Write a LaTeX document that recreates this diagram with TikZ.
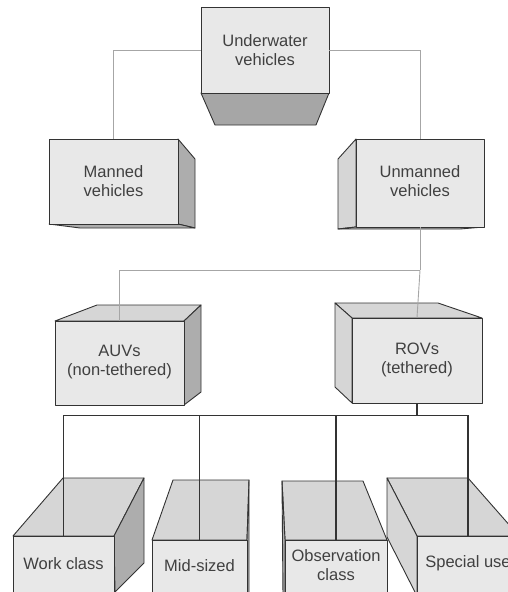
\documentclass[tikz,border=0pt]{standalone}
\usepackage{fontspec}
\setmainfont{Liberation Sans}
\begin{document}
\begin{tikzpicture}[x=1pt,y=-1pt,
  edge/.style={draw=black!80,line width=0.9pt,line join=round},
  front/.style={edge,fill=black!9,rectangle,inner sep=0pt},
  topface/.style={edge,fill=black!16},
  darkface/.style={edge,fill=black!32},
  btmface/.style={edge,fill=black!35},
  lite/.style={draw=black!35,line width=0.9pt},
  dark/.style={draw=black!80,line width=1.3pt},
  lbl/.style={inner sep=0pt,align=center,text=black!75,font=\fontsize{16.5}{19}\selectfont}]
\useasboundingbox (0,0) rectangle (508,592);
\clip (0,0) rectangle (508,592);
% ---- top box
\path[btmface] (201,93) -- (329,93) -- (316,125) -- (215,125) -- cycle;
\node[front,minimum width=128pt,minimum height=86pt] (top) at (265,50) {};
\node[lbl] (toptxt) at (265,50.5) {Underwater\\vehicles};
% ---- manned
\path[darkface] (178,139) -- (195,159) -- (195,228) -- (178,224) -- cycle;
\path[darkface] (49,224) -- (178,224) -- (195,228) -- (80,228) -- cycle;
\node[front,minimum width=129pt,minimum height=85pt] (man) at (113.5,181.5) {};
\node[lbl] (mantxt) at (113.5,180.6) {Manned\\vehicles};
% ---- unmanned
\path[topface] (356,139) -- (338,159) -- (338,229) -- (356,227) -- cycle;
\path[darkface] (338,229) -- (356,227) -- (484,227) -- (460,229) -- cycle;
\node[front,minimum width=128pt,minimum height=88pt] (un) at (420,183) {};
\node[lbl] (untxt) at (420,180.6) {Unmanned\\vehicles};
% ---- AUV
\path[topface] (55,321) -- (97,305) -- (201,305) -- (184,321) -- cycle;
\path[darkface] (184,321) -- (201,305) -- (201,392) -- (184,405) -- cycle;
\node[front,minimum width=129pt,minimum height=84pt] (auv) at (119.5,363) {};
\node[lbl] (auvtxt) at (119.5,362) {AUVs\\(non-tethered)};
% ---- ROV
\path[topface] (352,318) -- (335,303) -- (438,303) -- (482,318) -- cycle;
\path[topface] (352,318) -- (335,303) -- (335,387) -- (352,403) -- cycle;
\node[front,minimum width=130pt,minimum height=85pt] (rov) at (417,360.5) {};
\node[lbl] (rovtxt) at (417,360.3) {ROVs\\(tethered)};
% ---- work class
\path[topface] (13,536) -- (63,478) -- (144,478) -- (114,536) -- cycle;
\path[darkface] (114,536) -- (144,478) -- (144,563) -- (115,592) -- cycle;
\node[front,minimum width=101pt,minimum height=60pt] (work) at (63.5,566) {};
\node[lbl] (worktxt) at (63.5,564) {Work class};
% ---- mid-sized
\path[topface] (152,540) -- (173,480) -- (249,480) -- (247,540) -- cycle;
\path[darkface] (247,540) -- (249,480) -- (249,596) -- (247,596) -- cycle;
\node[front,minimum width=95pt,minimum height=56pt] (mid) at (199.5,568) {};
\node[lbl] (midtxt) at (199.5,566) {Mid-sized};
% ---- observation class
\path[topface] (285,540) -- (282,481) -- (363,481) -- (387,540) -- cycle;
\path[darkface] (282,481) -- (285,540) -- (285,596) -- (283,596) -- cycle;
\node[front,minimum width=102pt,minimum height=56pt] (obs) at (336,568) {};
\node[lbl] (obstxt) at (336,565.5) {Observation\\class};
% ---- special use
\path[topface] (417,536) -- (387,478) -- (468,478) -- (519,536) -- cycle;
\path[topface] (387,478) -- (417,536) -- (417,596) -- (387,537) -- cycle;
\node[front,minimum width=102pt,minimum height=60pt] (spec) at (468,566) {};
\node[lbl] (spectxt) at (468,563.7) {Special use};
% ---- connectors
\draw[lite] (top.west) -| (man.north);
\draw[lite] (top.east) -| (un.north);
\draw[lite] (un.south) -- ++(0,43) coordinate (j1);
\draw[lite] (j1) -| (auv.north);
\draw[lite] (j1) -- (rov.north);
\draw[dark] (rov.south) -- ++(0,12) coordinate (j2);
\draw[dark] (j2) -| (work.north);
\draw[dark] (j2) -| (mid.north);
\draw[dark] (j2) -| (obs.north);
\draw[dark] (j2) -| (spec.north);
\end{tikzpicture}
\end{document}
